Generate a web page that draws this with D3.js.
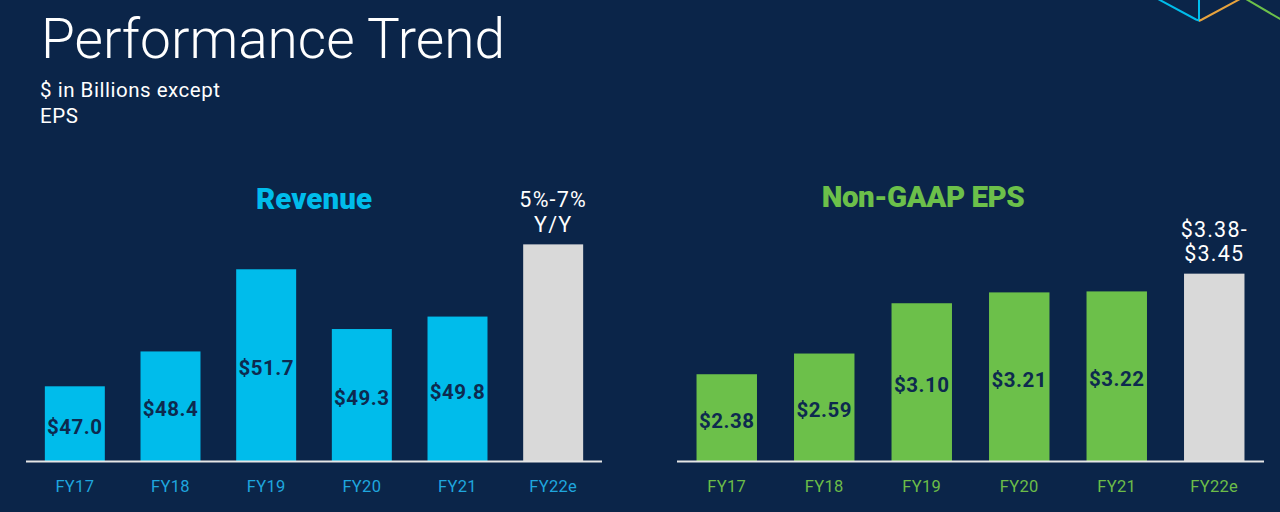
<!DOCTYPE html>
<html>
<head>
<meta charset="utf-8">
<script src="https://cdn.jsdelivr.net/npm/d3@7/dist/d3.min.js"></script>
<style>
  html, body { margin: 0; padding: 0; background: #0b2549; }
  svg { display: block; }
  text { font-family: Roboto, "Noto Sans", sans-serif; }
</style>
</head>
<body>
<svg id="chart" width="1280" height="512"></svg>
<script>
// ---- Data ----
const categories = ["FY17", "FY18", "FY19", "FY20", "FY21", "FY22e"];
const revenueValues = [47.0, 48.4, 51.7, 49.3, 49.8, 52.7];
const revenueLabels = ["$47.0", "$48.4", "$51.7", "$49.3", "$49.8", ""];
const epsValues = [2.38, 2.59, 3.10, 3.21, 3.22, 3.40];
const epsLabels = ["$2.38", "$2.59", "$3.10", "$3.21", "$3.22", ""];
const revenueGuidance = ["5%-7%", "Y/Y"];
const epsGuidance = ["$3.38-", "$3.45"];

const BG = "#0b2549";
const CYAN = "#00bceb";
const GREEN = "#6cc04a";
const GRAY = "#d9d9d9";

const svg = d3.select("#chart");
svg.append("rect").attr("width", 1280).attr("height", 512).attr("fill", BG);

// ---- Decoration top-right ----
const deco = svg.append("g").attr("fill", "none").attr("stroke-width", 2).attr("stroke-linecap", "round");
const line = d3.line();
deco.append("path").attr("stroke", CYAN).attr("d", line([[1158, -1], [1196, 19.5], [1199, 20.5], [1199, -1]]));
deco.append("path").attr("stroke", "#e8a33d").attr("d", line([[1200, 20.5], [1202, 19.5], [1240, -1]]));
deco.append("path").attr("stroke", GREEN).attr("d", line([[1246, -1], [1281, 19.5]]));

// ---- Titles ----
const title = svg.append("text").attr("x", 41).attr("y", 58)
  .attr("fill", "#ffffff").attr("font-weight", 300).attr("font-size", 52)
  .text("Performance Trend");
const tl = title.node().getComputedTextLength();
title.attr("font-size", 52 * 464 / tl);

function fitText(sel, target) {
  const w = sel.node().getComputedTextLength();
  const n = sel.text().length;
  if (n > 1) sel.attr("letter-spacing", (target - w) / (n - 1));
}

const sub1 = svg.append("text").attr("x", 40).attr("y", 97).attr("fill", "#ffffff")
  .attr("font-size", 20.5).text("$ in Billions except");
fitText(sub1, 180);
const sub2 = svg.append("text").attr("x", 40).attr("y", 123).attr("fill", "#ffffff")
  .attr("font-size", 20.5).text("EPS");
fitText(sub2, 38);

// ---- Chart builder ----
function drawPanel(opts) {
  const g = svg.append("g");
  const x = d3.scaleBand().domain(categories).range(opts.xRange)
    .paddingInner(opts.pad).paddingOuter(opts.pad / 2);
  const y = d3.scaleLinear().domain(opts.yDomain).range(opts.yRange);

  g.selectAll("rect.bar").data(opts.values).enter().append("rect")
    .attr("class", "bar")
    .attr("x", (d, i) => x(categories[i]))
    .attr("width", x.bandwidth())
    .attr("y", d => y(d))
    .attr("height", d => y.range()[0] - y(d))
    .attr("fill", (d, i) => i === categories.length - 1 ? GRAY : opts.color);

  g.selectAll("text.val").data(opts.values).enter().append("text")
    .attr("class", "val")
    .attr("x", (d, i) => x(categories[i]) + x.bandwidth() / 2)
    .attr("y", d => (y(d) + y.range()[0]) / 2 + 10)
    .attr("text-anchor", "middle")
    .attr("fill", "#0d2a4f")
    .attr("font-weight", 700)
    .attr("font-size", 20.5)
    .attr("letter-spacing", 0.5)
    .text((d, i) => opts.labels[i]);

  const axis = d3.axisBottom(x).tickSize(0).tickPadding(20);
  const ax = g.append("g").attr("transform", `translate(0,${opts.yRange[0] + 0.5})`).call(axis);
  ax.select(".domain").attr("stroke", "#e6e6e6").attr("stroke-width", 2)
    .attr("d", `M${opts.xRange[0] - 1},0H${opts.xRange[1] + 1}`);
  ax.selectAll(".tick text").attr("fill", opts.labelColor).attr("font-size", 16.5)
    .attr("font-family", "Roboto, sans-serif").attr("dy", "0.71em").attr("y", 19)
    .attr("letter-spacing", 0.3);

  // title
  const t = g.append("text").attr("x", opts.titleX).attr("y", opts.titleY)
    .attr("text-anchor", "middle").attr("fill", opts.color)
    .attr("font-weight", 900).attr("font-size", 29.5)
    .text(opts.title);
  fitText(t, opts.titleW);

  // guidance annotation above last bar
  const last = categories[categories.length - 1];
  const cx = x(last) + x.bandwidth() / 2;
  opts.guidance.forEach((s, i) => {
    g.append("text").attr("x", cx).attr("y", opts.guideY + i * opts.guideStep)
      .attr("text-anchor", "middle").attr("fill", "#ffffff")
      .attr("font-size", 21.5).attr("letter-spacing", 1.2)
      .text(s);
  });
}

drawPanel({
  values: revenueValues, labels: revenueLabels, color: CYAN, labelColor: "#1fa6de",
  xRange: [27, 601], pad: 0.373,
  yDomain: [44, 53], yRange: [461, 461 - 9 * 24.9],
  title: "Revenue", titleX: 314, titleY: 208.5, titleW: 116,
  guidance: revenueGuidance, guideY: 207, guideStep: 25
});

drawPanel({
  values: epsValues, labels: epsLabels, color: GREEN, labelColor: "#6cbd48",
  xRange: [678, 1263], pad: 0.38,
  yDomain: [1.5, 3.5], yRange: [461, 461 - 2 * 98.6],
  title: "Non-GAAP EPS", titleX: 923, titleY: 206.5, titleW: 203,
  guidance: epsGuidance, guideY: 237, guideStep: 24
});
</script>
</body>
</html>
